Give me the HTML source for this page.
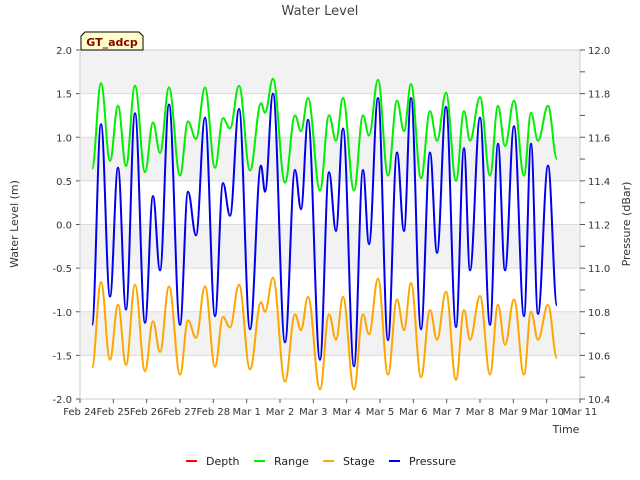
<!DOCTYPE html>
<html><head><meta charset="utf-8"><style>
body{margin:0;background:#fff}
svg{display:block;font-family:"DejaVu Sans","Liberation Sans",sans-serif}
</style></head><body>
<svg id="chart" width="640" height="480" viewBox="0 0 640 480">
<g id="bands"></g>
<g id="axes"></g>
<g id="series"></g>
<text x="320" y="15" text-anchor="middle" font-size="13" fill="#444">Water Level</text>
<text transform="translate(18,224) rotate(-90)" text-anchor="middle" font-size="11" fill="#333">Water Level (m)</text>
<text transform="translate(630,224) rotate(-90)" text-anchor="middle" font-size="11" fill="#333">Pressure (dBar)</text>
<text x="566" y="433" text-anchor="middle" font-size="11" fill="#333">Time</text>
<g>
<path d="M81,50 L81,36 L85,32 L139,32 L143,36 L143,50 Z" fill="#ffffcc" stroke="#000" stroke-width="1"/>
<text x="112" y="46" text-anchor="middle" font-size="11" font-weight="bold" fill="#8b0000">GT_adcp</text>
</g>
<g>
<g><line x1="186" y1="461" x2="197" y2="461" stroke="#ff0000" stroke-width="2"/><text x="206" y="465" font-size="11" fill="#222">Depth</text></g>
<g><line x1="254" y1="461" x2="265" y2="461" stroke="#00ee00" stroke-width="2"/><text x="274" y="465" font-size="11" fill="#222">Range</text></g>
<g><line x1="323" y1="461" x2="334" y2="461" stroke="#ffa500" stroke-width="2"/><text x="343" y="465" font-size="11" fill="#222">Stage</text></g>
<g><line x1="389" y1="461" x2="400" y2="461" stroke="#0000ee" stroke-width="2"/><text x="409" y="465" font-size="11" fill="#222">Pressure</text></g>
</g>
</svg>
<script>
const xTickLabels=["Feb 24","Feb 25","Feb 26","Feb 27","Feb 28","Mar 1","Mar 2","Mar 3","Mar 4","Mar 5","Mar 6","Mar 7","Mar 8","Mar 9","Mar 10","Mar 11"];
const leftTicks=[2.0,1.5,1.0,0.5,0.0,-0.5,-1.0,-1.5,-2.0];
const rightTicks=[12.0,11.8,11.6,11.4,11.2,11.0,10.8,10.6,10.4];
// extrema times, days since Feb 24 00:00
const extremaDays=[0.36,0.63,0.9,1.14,1.38,1.65,1.95,2.19,2.4,2.67,3.0,3.24,3.48,3.75,4.05,4.29,4.5,4.77,5.1,5.43,5.55,5.79,6.15,6.45,6.63,6.84,7.2,7.47,7.68,7.89,8.22,8.49,8.67,8.94,9.24,9.51,9.72,9.93,10.23,10.5,10.71,10.98,11.28,11.52,11.7,12.0,12.3,12.54,12.75,13.02,13.32,13.53,13.74,14.04,14.31];
const rangeValues=[0.64,1.62,0.73,1.36,0.67,1.59,0.6,1.17,0.82,1.57,0.56,1.18,0.98,1.57,0.65,1.22,1.1,1.59,0.62,1.39,1.28,1.67,0.48,1.25,1.07,1.45,0.39,1.25,0.96,1.45,0.39,1.25,1.02,1.66,0.56,1.42,1.07,1.61,0.53,1.3,0.96,1.51,0.5,1.3,0.96,1.46,0.56,1.36,0.9,1.42,0.56,1.28,0.96,1.36,0.75];
const stageValues=[-1.64,-0.66,-1.55,-0.92,-1.61,-0.69,-1.68,-1.11,-1.46,-0.71,-1.72,-1.1,-1.3,-0.71,-1.63,-1.06,-1.18,-0.69,-1.66,-0.89,-1.0,-0.61,-1.8,-1.03,-1.21,-0.83,-1.89,-1.03,-1.32,-0.83,-1.89,-1.03,-1.26,-0.62,-1.72,-0.86,-1.21,-0.67,-1.75,-0.98,-1.32,-0.77,-1.78,-0.98,-1.32,-0.82,-1.72,-0.92,-1.38,-0.86,-1.72,-1.0,-1.32,-0.92,-1.53];
const pressureValues=[10.74,11.66,10.87,11.46,10.81,11.71,10.75,11.33,10.99,11.75,10.74,11.35,11.15,11.69,10.78,11.39,11.24,11.73,10.72,11.47,11.35,11.80,10.66,11.45,11.27,11.68,10.58,11.44,11.17,11.64,10.55,11.45,11.11,11.78,10.67,11.53,11.17,11.78,10.72,11.53,11.07,11.74,10.73,11.55,10.99,11.69,10.74,11.57,10.99,11.65,10.78,11.57,10.79,11.47,10.83];

const NS="http://www.w3.org/2000/svg";
const X0=80,X1=580,Y0=50,Y1=399;
const xs=d=>X0+(X1-X0)*d/15;
const yL=v=>Y0+(2-v)/4*(Y1-Y0);
const yR=v=>Y0+(12-v)/1.6*(Y1-Y0);
function mk(tag,attrs,parent){const e=document.createElementNS(NS,tag);for(const k in attrs)e.setAttribute(k,attrs[k]);parent.appendChild(e);return e;}
const bands=document.getElementById('bands'),axes=document.getElementById('axes'),series=document.getElementById('series');
mk('rect',{x:X0,y:Y0,width:X1-X0,height:Y1-Y0,fill:'#fff'},bands);
for(let i=0;i<leftTicks.length-1;i+=2){
  const r=mk('rect',{x:X0,y:yL(leftTicks[i]),width:X1-X0,height:yL(leftTicks[i+1])-yL(leftTicks[i]),fill:'#f2f2f2'},bands);
  
  
}
leftTicks.forEach(v=>{
  const y=yL(v);
  const g=mk('line',{x1:X0,x2:X1,y1:y,y2:y,stroke:'#dcdcdc','stroke-width':1},axes);
  
  
  mk('line',{x1:X0-4,x2:X0,y1:y,y2:y,stroke:'#555'},axes);
  const t=mk('text',{x:X0-8,y:y+4,'text-anchor':'end','font-size':10,fill:'#333'},axes);
  t.textContent=v.toFixed(1);
  
  
});
mk('rect',{x:X0,y:Y0,width:X1-X0,height:Y1-Y0,fill:'none',stroke:'#ccc'},axes);
for(let v=12.0;v>=10.35;v-=0.1){
  const y=yR(v);
  mk('line',{x1:X1,x2:X1+5,y1:y,y2:y,stroke:'#555'},axes);
}
rightTicks.forEach(v=>{
  const t=mk('text',{x:X1+8,y:yR(v)+4,'font-size':10,fill:'#333'},axes);
  t.textContent=v.toFixed(1);
  
  
});
xTickLabels.forEach((s,i)=>{
  const x=xs(i);
  mk('line',{x1:x,x2:x,y1:Y1,y2:Y1+4,stroke:'#555'},axes);
  const t=mk('text',{x:x,y:Y1+16,'text-anchor':'middle','font-size':10,fill:'#333'},axes);
  t.textContent=s;
  
  
});
function pathFor(days,vals,ys){
  let d='M'+xs(days[0]).toFixed(1)+','+ys(vals[0]).toFixed(1);
  for(let i=1;i<days.length;i++){
    const xa=xs(days[i-1]),xb=xs(days[i]),ya=ys(vals[i-1]),yb=ys(vals[i]);
    const dx=(xb-xa)/2.6;
    d+=' C'+(xa+dx).toFixed(1)+','+ya.toFixed(1)+' '+(xb-dx).toFixed(1)+','+yb.toFixed(1)+' '+xb.toFixed(1)+','+yb.toFixed(1);
  }
  return d;
}
const pr=mk('path',{d:pathFor(extremaDays,pressureValues,yR),fill:'none',stroke:'#0000ee','stroke-width':2},series);


const st=mk('path',{d:pathFor(extremaDays,stageValues,yL),fill:'none',stroke:'#ffa500','stroke-width':2},series);


const rg=mk('path',{d:pathFor(extremaDays,rangeValues,yL),fill:'none',stroke:'#00ee00','stroke-width':2},series);


</script>
</body></html>
